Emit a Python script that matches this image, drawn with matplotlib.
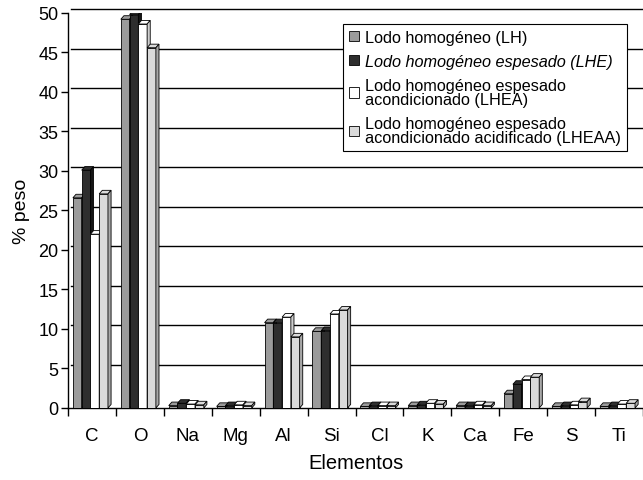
import numpy as np
import matplotlib
matplotlib.use("Agg")
import matplotlib.pyplot as plt
from matplotlib.patches import Polygon

plt.rcParams["font.family"] = ["Liberation Sans", "DejaVu Sans"]

# data (% peso per element)
ELEMENTS = ["C", "O", "Na", "Mg", "Al", "Si", "Cl", "K", "Ca", "Fe", "S", "Ti"]
LH = [26.6, 49.2, 0.3, 0.2, 10.8, 9.7, 0.2, 0.3, 0.3, 1.8, 0.2, 0.2]
LHE = [30.1, 49.8, 0.6, 0.3, 10.8, 9.8, 0.3, 0.4, 0.3, 3.0, 0.3, 0.3]
LHEA = [22.0, 48.6, 0.5, 0.4, 11.5, 11.9, 0.3, 0.6, 0.4, 3.6, 0.4, 0.5]
LHEAA = [27.1, 45.6, 0.4, 0.3, 9.0, 12.4, 0.3, 0.5, 0.3, 3.9, 0.8, 0.6]
LABELS = ["Lodo homogéneo (LH)",
          "Lodo homogéneo espesado (LHE)",
          "Lodo homogéneo espesado\nacondicionado (LHEA)",
          "Lodo homogéneo espesado\nacondicionado acidificado (LHEAA)"]
YTICKS = [0, 5, 10, 15, 20, 25, 30, 35, 40, 45, 50]

FACE = ["#9b9b9b", "#2e2e2e", "#ffffff", "#dadada"]
SIDE = ["#6e6e6e", "#151515", "#cfcfcf", "#a8a8a8"]
W = 0.183          # bar width (category units)
DX, DY = 0.065, 0.45   # fake 3-D depth


def bar3d(ax, x, h, face, side):
    """front face + top + right side, all from the bar's own geometry."""
    ax.bar(x, h, W, align="edge", color=face, edgecolor="black", lw=0.6, zorder=3)
    top = [(x, h), (x + DX, h + DY), (x + W + DX, h + DY), (x + W, h)]
    rside = [(x + W, 0), (x + W + DX, DY), (x + W + DX, h + DY), (x + W, h)]
    ax.add_patch(Polygon(top, closed=True, facecolor=face, edgecolor="black", lw=0.6, zorder=3))
    ax.add_patch(Polygon(rside, closed=True, facecolor=side, edgecolor="black", lw=0.6, zorder=3))


fig = plt.figure(figsize=(6.43, 4.81), dpi=100)
ax = fig.add_axes([0.1058, 0.1497, 0.8942, 0.8213])

xs = np.arange(len(ELEMENTS))
series = [LH, LHE, LHEA, LHEAA]
for k, vals in enumerate(series):
    for i, v in enumerate(vals):
        bar3d(ax, xs[i] - 2 * W + k * W - DX / 2, v, FACE[k], SIDE[k])

# back-wall gridlines (shifted by the depth like the original 3-D chart)
for t in YTICKS[1:]:
    ax.plot([-0.5 + DX, 11.5], [t + DY, t + DY], color="black", lw=1.0, zorder=1,
            clip_on=False)

ax.set_xlim(-0.5, 11.5)
ax.set_ylim(0, 50)
ax.set_yticks(YTICKS)
ax.set_xticks(xs)
ax.set_xticklabels(ELEMENTS, fontsize=13.5)
ax.set_xticks(np.arange(-0.5, 12, 1), minor=True)
ax.tick_params(axis="x", which="major", length=0, pad=14)
ax.tick_params(axis="x", which="minor", length=6, width=1, direction="out")
ax.tick_params(axis="y", labelsize=13, length=5, width=1, pad=2)
for s in ("top", "right"):
    ax.spines[s].set_visible(False)
for s in ("left", "bottom"):
    ax.spines[s].set_linewidth(1.0)

ax.set_xlabel("Elementos", fontsize=14.5, labelpad=6)
ax.set_ylabel("% peso", fontsize=14, labelpad=6)

handles = [plt.Rectangle((0, 0), 1, 1, facecolor=FACE[k], edgecolor="black", lw=0.6)
           for k in range(4)]
leg = ax.legend(handles, LABELS, loc="upper right", bbox_to_anchor=(0.972, 0.972),
                borderaxespad=0, fontsize=11.7, fancybox=False, edgecolor="black",
                framealpha=1, handlelength=0.6, handleheight=0.6, handletextpad=0.4,
                borderpad=0.35, labelspacing=0.55)
leg.get_frame().set_linewidth(0.8)
leg.get_texts()[1].set_fontstyle("italic")
for t in leg.get_texts():
    t.set_linespacing(0.95)
leg.set_zorder(5)

fig.savefig("out.png", dpi=100)
